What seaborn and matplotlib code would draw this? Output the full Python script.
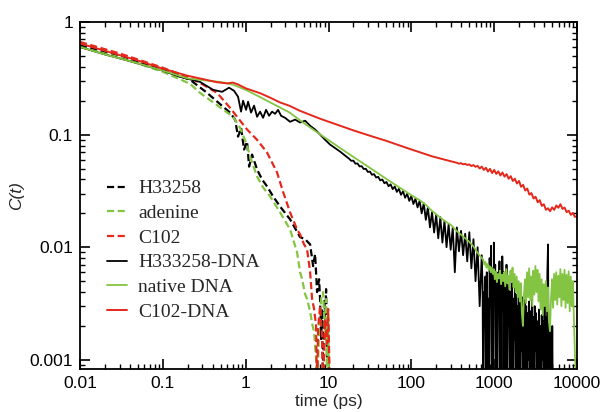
import numpy as np
import pandas as pd
import matplotlib
matplotlib.use("Agg")
import matplotlib.pyplot as plt
import seaborn as sns
from matplotlib.ticker import LogLocator, NullFormatter, FixedLocator, FixedFormatter

# ------------------------------------------------------------------ data
series_names = ["H33258", "adenine", "C102", "H333258-DNA", "native DNA", "C102-DNA"]

x_ticks = [0.01, 0.1, 1, 10, 100, 1000, 10000]
x_tick_labels = ["0.01", "0.1", "1", "10", "100", "1000", "10000"]
y_ticks = [0.001, 0.01, 0.1, 1]
y_tick_labels = ["0.001", "0.01", "0.1", "1"]

# H33258 (black dashed)
h33258_t = [0.01, 0.0313, 0.1005, 0.213, 0.342, 0.533, 0.648, 0.745, 0.809, 0.880, 0.956, 1.04,
            1.10, 1.195, 1.373, 1.578, 1.813, 2.142, 2.603, 3.437, 4.54, 5.22, 6.0, 6.52, 6.89,
            7.28, 7.70, 7.91, 8.14, 8.37, 8.61, 8.85, 9.10, 9.35, 9.62, 9.89, 10.17]
h33258_C = [0.62, 0.50, 0.376, 0.307, 0.235, 0.177, 0.157, 0.136, 0.096, 0.115, 0.0737, 0.0867,
            0.052, 0.0665, 0.049, 0.040, 0.0347, 0.0283, 0.023, 0.0177, 0.0123, 0.0118, 0.0106,
            0.0068, 0.0087, 0.0040, 0.0052, 0.00347, 0.00153, 0.00283, 0.0005, 0.00347, 0.0019,
            0.00425, 0.00102, 0.0023, 0.0005]

# adenine (green dashed)
adenine_t = [0.01, 0.0313, 0.1005, 0.213, 0.281, 0.427, 0.704, 0.856, 1.04, 1.13, 1.373, 1.622,
             1.97, 2.603, 3.437, 4.176, 4.54, 4.80, 5.22, 5.51, 6.0, 6.34, 6.70, 7.08, 7.28, 7.70,
             8.14, 8.61, 9.10, 9.35, 9.62, 9.89, 10.17]
adenine_C = [0.60, 0.48, 0.361, 0.283, 0.235, 0.188, 0.144, 0.115, 0.080, 0.0638, 0.0425, 0.034,
             0.0283, 0.0204, 0.0144, 0.0090, 0.0060, 0.0052, 0.00384, 0.00347, 0.0027, 0.0021,
             0.00177, 0.00102, 0.0005, 0.00188, 0.00347, 0.0040, 0.00153, 0.00347, 0.0005,
             0.00283, 0.0005]

# C102 (red dashed)
c102_t = [0.01, 0.0313, 0.1005, 0.213, 0.281, 0.451, 0.648, 0.787, 1.04, 1.373, 1.813, 2.394,
          2.829, 3.437, 4.176, 4.54, 5.07, 5.51, 5.83, 6.0, 6.34, 6.70, 7.08, 7.28, 7.48, 7.91,
          8.37, 8.61, 9.10, 9.62, 9.89, 10.45]
c102_C = [0.665, 0.521, 0.392, 0.319, 0.288, 0.235, 0.173, 0.144, 0.111, 0.090, 0.0693, 0.0461,
          0.031, 0.0204, 0.0144, 0.0130, 0.0106, 0.0096, 0.0071, 0.0060, 0.00347, 0.00283,
          0.0020, 0.0005, 0.00188, 0.0030, 0.0017, 0.0005, 0.0023, 0.00139, 0.00283, 0.0005]

# H333258-DNA (black solid): early part
hdna_t = [0.01, 0.02, 0.05, 0.1, 0.161, 0.281, 0.404, 0.519, 0.630, 0.724, 0.809, 0.880, 0.930,
          1.011, 1.069, 1.162, 1.263, 1.373, 1.492, 1.622, 1.763, 1.917, 2.084, 2.265, 2.462,
          2.676, 2.991, 3.437, 3.951, 4.54, 5.217, 5.995, 6.89, 7.915, 9.097, 10.45, 13.8]
hdna_C = [0.60, 0.515, 0.43, 0.37, 0.326, 0.294, 0.25, 0.24, 0.261, 0.245, 0.217, 0.16, 0.20,
          0.166, 0.196, 0.157, 0.181, 0.144, 0.160, 0.141, 0.166, 0.147, 0.160, 0.153, 0.166,
          0.147, 0.141, 0.130, 0.136, 0.128, 0.133, 0.120, 0.111, 0.100, 0.090, 0.0816, 0.0707]
# H333258-DNA: noisy middle part (18 ps .. 700 ps)
hdna_mid_C = [0.0610, 0.0585, 0.0588, 0.0552, 0.0555, 0.0522, 0.0525, 0.0495, 0.0498, 0.0466,
              0.0470, 0.0440, 0.0446, 0.0416, 0.0422, 0.0392, 0.0400, 0.0370, 0.0380, 0.0348,
              0.0362, 0.0328, 0.0346, 0.0310, 0.0330, 0.0292, 0.0314, 0.0275, 0.0298, 0.0258,
              0.0284, 0.0242, 0.0270, 0.0226, 0.0258, 0.0200, 0.0246, 0.0175, 0.0226, 0.0150,
              0.0205, 0.0135, 0.0195, 0.0120, 0.0185, 0.0110, 0.0172, 0.0100, 0.0160, 0.0095,
              0.0150, 0.0060, 0.0150, 0.0092, 0.0140, 0.0085, 0.0132, 0.0075, 0.0136, 0.0065,
              0.0118, 0.0050, 0.0100, 0.0030, 0.0085]
# H333258-DNA: very noisy tail (700 ps .. 5100 ps)
hdna_tail_C = [0.0045, 0.0003, 0.0040, 0.0020, 0.0055, 0.0003, 0.0060, 0.0003, 0.0035, 0.0003,
               0.0080, 0.0030, 0.0103, 0.0003, 0.0065, 0.0003, 0.0110, 0.0040, 0.0070, 0.0003,
               0.0060, 0.0003, 0.0050, 0.0025, 0.0075, 0.0003, 0.0055, 0.0003, 0.0083, 0.0035,
               0.0060, 0.0003, 0.0050, 0.0003, 0.0070, 0.0003, 0.0045, 0.0020, 0.0052, 0.0003,
               0.0040, 0.0003, 0.0048, 0.0003, 0.0035, 0.0015, 0.0045, 0.0003, 0.0038, 0.0003,
               0.0030, 0.0003, 0.0042, 0.0003, 0.0032, 0.0012, 0.0036, 0.0003, 0.0028, 0.0003,
               0.0034, 0.0003, 0.0030, 0.0003, 0.0026, 0.0010, 0.0033, 0.0003, 0.0027, 0.0003,
               0.0035, 0.0003, 0.0024, 0.0003, 0.0030, 0.0012, 0.0026, 0.0003, 0.0022, 0.0003,
               0.0028, 0.0003, 0.0020, 0.0003, 0.0025, 0.0010, 0.0022, 0.0003, 0.0030, 0.0003,
               0.0024, 0.0003, 0.0060, 0.0106, 0.0003, 0.0022, 0.0003, 0.0018, 0.0003, 0.0020,
               0.0003]

# native DNA (green solid): smooth part
ndna_t = [0.01, 0.02, 0.05, 0.1, 0.2, 0.3, 0.5, 0.7, 1.0, 1.5, 2.6, 3.4, 5, 8, 16.8, 30, 60,
          100, 128, 150, 170, 200, 250, 300, 355, 420, 500, 560, 640]
ndna_C = [0.60, 0.515, 0.43, 0.37, 0.315, 0.305, 0.293, 0.278, 0.25, 0.215, 0.174, 0.157, 0.127,
          0.100, 0.069, 0.052, 0.037, 0.029, 0.026, 0.0238, 0.0216, 0.0196, 0.0172, 0.0158,
          0.0139, 0.0125, 0.0112, 0.0102, 0.0088]
# native DNA: noisy tail (740 ps .. 10000 ps)
ndna_tail_C = [0.0077, 0.0070, 0.0074, 0.0066, 0.0071, 0.0063, 0.0068, 0.0060, 0.0066, 0.0058,
               0.0064, 0.0052, 0.0061, 0.0049, 0.0058, 0.0053, 0.0062, 0.0047, 0.0057, 0.0050,
               0.0060, 0.0045, 0.0064, 0.0048, 0.0056, 0.0042, 0.0062, 0.0050, 0.0066, 0.0044,
               0.0058, 0.0040, 0.0055, 0.0036, 0.0050, 0.0033, 0.0048, 0.0026, 0.0020, 0.0038,
               0.0052, 0.0032, 0.0060, 0.0036, 0.0065, 0.0034, 0.0055, 0.0030, 0.0062, 0.0038,
               0.0068, 0.0040, 0.0063, 0.0033, 0.0058, 0.0028, 0.0052, 0.0025, 0.0047, 0.0030,
               0.0050, 0.0027, 0.0044, 0.0022, 0.0018, 0.0035, 0.0052, 0.0029, 0.0058, 0.0034,
               0.0060, 0.0031, 0.0056, 0.0036, 0.0064, 0.0030, 0.0058, 0.0034, 0.0063, 0.0029,
               0.0057, 0.0032, 0.0061, 0.0027, 0.0055, 0.0030, 0.0050, 0.0024, 0.0011, 0.0007,
               0.0009]

# C102-DNA (red solid): smooth part
cdna_t = [0.01, 0.02, 0.05, 0.1, 0.2, 0.3, 0.45, 0.6, 0.7, 0.8, 1.0, 1.5, 2.0, 2.6, 3.4, 4.5, 8,
          13.8, 20, 30, 50, 89, 180, 300]
cdna_C = [0.645, 0.555, 0.455, 0.385, 0.333, 0.312, 0.292, 0.285, 0.29, 0.28, 0.258, 0.233,
          0.212, 0.193, 0.18, 0.163, 0.138, 0.12, 0.109, 0.099, 0.088, 0.076, 0.064, 0.058]
# C102-DNA: noisy tail (355 ps .. 10000 ps)
cdna_tail_C = [0.0562, 0.0552, 0.0558, 0.0545, 0.0550, 0.0538, 0.0544, 0.0526, 0.0537, 0.0518,
               0.0528, 0.0500, 0.0520, 0.0486, 0.0508, 0.0470, 0.0497, 0.0456, 0.0486, 0.0448,
               0.0472, 0.0434, 0.0461, 0.0424, 0.0446, 0.0406, 0.0428, 0.0388, 0.0406, 0.0368,
               0.0388, 0.0344, 0.0358, 0.0319, 0.0332, 0.0293, 0.0303, 0.0271, 0.0281, 0.0251,
               0.0262, 0.0233, 0.0241, 0.0215, 0.0222, 0.0209, 0.0226, 0.0215, 0.0235, 0.0224,
               0.0241, 0.0219, 0.0225, 0.0205, 0.0211, 0.0194, 0.0202, 0.0186, 0.0189]

# sampling grids of the dense (noisy) tails
hdna_mid_t = np.geomspace(10 ** 1.25, 10 ** 2.85, len(hdna_mid_C))
hdna_tail_t = np.geomspace(10 ** 2.86, 10 ** 3.71, len(hdna_tail_C))
ndna_tail_t = np.geomspace(10 ** 2.87, 10 ** 4.0, len(ndna_tail_C))
cdna_tail_t = np.geomspace(10 ** 2.55, 10 ** 4.0, len(cdna_tail_C))

series_t = {
    "H33258": h33258_t,
    "adenine": adenine_t,
    "C102": c102_t,
    "H333258-DNA": list(hdna_t) + list(hdna_mid_t) + list(hdna_tail_t),
    "native DNA": list(ndna_t) + list(ndna_tail_t),
    "C102-DNA": list(cdna_t) + list(cdna_tail_t),
}
series_C = {
    "H33258": h33258_C,
    "adenine": adenine_C,
    "C102": c102_C,
    "H333258-DNA": hdna_C + hdna_mid_C + hdna_tail_C,
    "native DNA": ndna_C + ndna_tail_C,
    "C102-DNA": cdna_C + cdna_tail_C,
}

frames = [pd.DataFrame({"time": series_t[n], "C": series_C[n], "series": n}) for n in series_names]
df = pd.concat(frames, ignore_index=True)

# ------------------------------------------------------------------ style
BLACK = "#000000"
GREEN = "#84c443"
RED = "#e5281c"
styles = {
    "H33258": (BLACK, (0, (3.2, 1.6)), 1.6),
    "adenine": (GREEN, (0, (3.2, 1.6)), 1.6),
    "C102": (RED, (0, (3.2, 1.6)), 1.6),
    "H333258-DNA": (BLACK, "-", 1.3),
    "native DNA": (GREEN, "-", 1.3),
    "C102-DNA": (RED, "-", 1.4),
}

sns.set_style("ticks")
plt.rcParams["font.family"] = ["Liberation Sans", "DejaVu Sans"]
plt.rcParams["path.simplify"] = False

fig = plt.figure(figsize=(6.04, 4.12), dpi=100)
ax = fig.add_axes([80 / 604, 1 - 369 / 412, 497 / 604, 347 / 412])
ax.set_xscale("log")
ax.set_yscale("log")

for n in series_names:
    col, ls, lw = styles[n]
    sub = df[df["series"] == n]
    sns.lineplot(data=sub, x="time", y="C", ax=ax, color=col, linestyle=ls, linewidth=lw,
                 estimator=None, sort=False, label=n)

ax.set_xlim(0.01, 10000)
ax.set_ylim(0.00083, 1)

ax.xaxis.set_major_locator(FixedLocator(x_ticks))
ax.xaxis.set_major_formatter(FixedFormatter(x_tick_labels))
ax.yaxis.set_major_locator(FixedLocator(y_ticks))
ax.yaxis.set_major_formatter(FixedFormatter(y_tick_labels))
ax.xaxis.set_minor_locator(LogLocator(base=10, subs=np.arange(2, 10), numticks=20))
ax.yaxis.set_minor_locator(LogLocator(base=10, subs=np.arange(2, 10), numticks=20))
ax.xaxis.set_minor_formatter(NullFormatter())
ax.yaxis.set_minor_formatter(NullFormatter())

ax.tick_params(which="both", direction="in", top=True, right=True, colors="black")
ax.tick_params(which="major", length=7, width=1.2, labelsize=12.5, pad=5)
ax.tick_params(which="minor", length=3.5, width=1.0)
for sp in ax.spines.values():
    sp.set_linewidth(1.3)
    sp.set_color("black")

ax.set_xlabel("time (ps)", fontsize=12.5, labelpad=2)
ax.set_ylabel("C(t)", fontsize=12.5, fontstyle="italic", labelpad=4)

leg = ax.legend(loc="upper left", bbox_to_anchor=(0.055, 0.545), frameon=False,
                prop={"family": ["Liberation Serif", "DejaVu Serif"], "size": 14},
                handlelength=1.0, handletextpad=0.6, labelspacing=0.36, borderpad=0,
                borderaxespad=0)

fig.savefig("out.png", dpi=100, facecolor="white")
